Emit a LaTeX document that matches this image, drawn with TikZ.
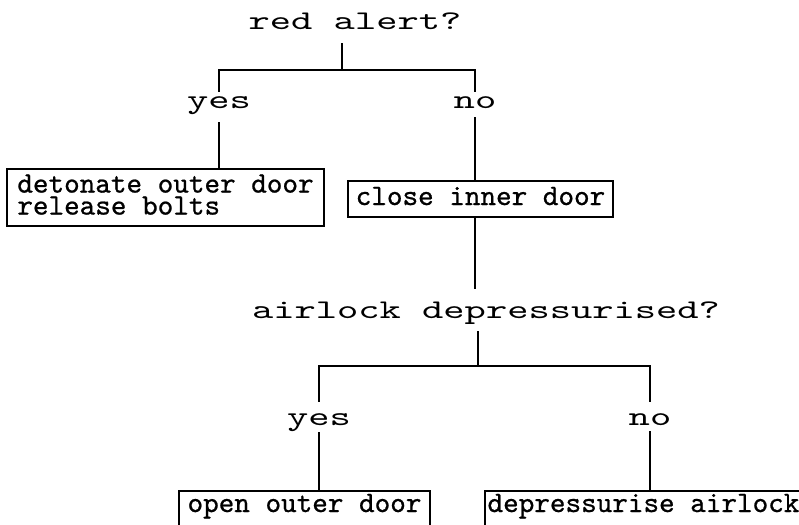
\documentclass[tikz,border=0pt]{standalone}
\usepackage{fontspec}
\usetikzlibrary{calc}
\newfontfamily\qfont[FakeStretch=1.5]{lmmono10-regular.otf}
\newfontfamily\bfont[FakeBold=0.7]{lmmono10-regular.otf}
\begin{document}
\begin{tikzpicture}[x=1pt,y=-1pt,
  q/.style={anchor=base,inner sep=0pt,font=\qfont\fontsize{27}{27}\selectfont},
  act/.style={draw,line width=1.5pt,inner sep=0pt,font=\bfont\fontsize{29.7}{22}\selectfont},
  conn/.style={line width=1.4pt}]
\useasboundingbox (0,0) rectangle (799,524);
\clip (0,0) rectangle (799,524);
\fill[white] (0,0) rectangle (799,524);

% first question
\node[q] (q1) at (355,30) {red alert?};
\node[q] (y1) at (219,109) {yes};
\node[q] (n1) at (475,109) {no};
\coordinate (j1) at (342,70);

\node[act,minimum width=317pt,minimum height=57pt,align=left] (a1) at (165.5,197.5)
  {detonate outer door\\release bolts\rule[-6pt]{0pt}{6pt}};
\node[act,minimum width=265pt,minimum height=36pt,text height=17pt,text depth=5pt] (a2) at (480.5,199)
  {close inner door};

% second question
\node[q] (q2) at (486,318) {airlock depressurised?};
\node[q] (y2) at (319,425) {yes};
\node[q] (n2) at (650,425) {no};
\coordinate (j2) at (478,366);

\node[act,minimum width=251pt,minimum height=36pt,text height=14pt,text depth=8pt] (a3) at (304.5,509)
  {open outer door};
\node[act,minimum width=317pt,minimum height=36pt,text height=14pt,text depth=8pt] (a4) at (643.5,509)
  {depressurise airlock};

% connectors, level 1
\draw[conn] ($(q1.south -| j1)+(0,13)$) -- (j1);
\draw[conn] ($(y1.north)+(0,-5)$) -- (y1.north |- j1) -- (n1.north |- j1) -- ($(n1.north)+(0,-5)$);
\draw[conn] ($(y1.south)+(0,7)$) -- (y1.south |- a1.north);
\draw[conn] ($(n1.south)+(0,8)$) -- (n1.south |- a2.north);
\draw[conn] (n1.south |- a2.south) -- ($(q2.north -| n1.south)+(0,-12)$);

% connectors, level 2
\draw[conn] ($(q2.south -| j2)+(0,7)$) -- (j2);
\draw[conn] ($(y2.north)+(0,-11)$) -- (y2.north |- j2) -- (n2.north |- j2) -- ($(n2.north)+(0,-11)$);
\draw[conn] ($(y2.south)+(0,1)$) -- (y2.south |- a3.north);
\draw[conn] ($(n2.south)+(0,6)$) -- (n2.south |- a4.north);
\end{tikzpicture}
\end{document}
